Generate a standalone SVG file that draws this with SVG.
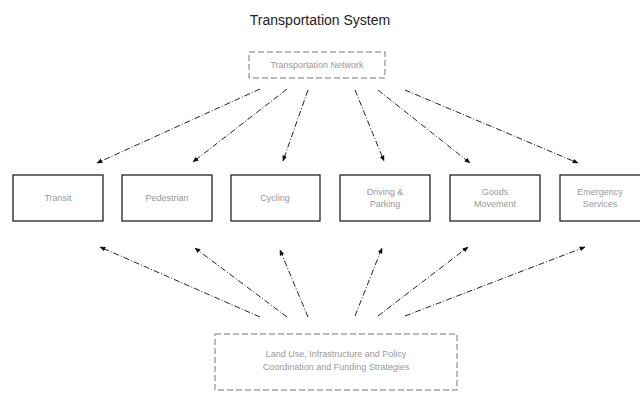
<svg xmlns="http://www.w3.org/2000/svg" width="640" height="394" viewBox="0 0 640 394">
<defs>
<style>
.title{font-family:"Liberation Sans",Arial,sans-serif;font-size:14px;fill:#222;text-anchor:middle}
.lbl{font-family:"Liberation Sans",Arial,sans-serif;font-size:9px;fill:#999;text-anchor:middle}
.node{fill:#fff;stroke:#222;stroke-width:1.3}
.hub{fill:#fff;stroke:#777;stroke-width:1;stroke-dasharray:6 3}
.conn{stroke:#222;stroke-width:1;stroke-dasharray:6 2 1 2;fill:none;marker-end:url(#ah)}
</style>
<marker id="ah" viewBox="0 0 10 10" refX="9" refY="5" markerWidth="6" markerHeight="6" orient="auto-start-reverse" markerUnits="userSpaceOnUse">
<path d="M0,1 L10,5 L0,9 z" fill="#111"/>
</marker>
</defs>
<rect width="640" height="394" fill="#fff"/>
<text class="title" x="320" y="25">Transportation System</text>
<g id="connectors">
<line class="conn" x1="260" y1="89" x2="97" y2="163"/>
<line class="conn" x1="287" y1="89" x2="193" y2="162"/>
<line class="conn" x1="308" y1="90" x2="283" y2="161"/>
<line class="conn" x1="355" y1="90" x2="384" y2="161"/>
<line class="conn" x1="378" y1="90" x2="470" y2="163"/>
<line class="conn" x1="405" y1="90" x2="578" y2="163"/>
<line class="conn" x1="260" y1="317" x2="100" y2="247"/>
<line class="conn" x1="287" y1="317" x2="195" y2="248"/>
<line class="conn" x1="308" y1="317" x2="280" y2="250"/>
<line class="conn" x1="355" y1="316" x2="382" y2="248"/>
<line class="conn" x1="378" y1="316" x2="468" y2="247"/>
<line class="conn" x1="405" y1="316" x2="585" y2="247"/>
</g>
<g id="top">
<rect class="hub" x="249" y="52" width="136" height="26"/>
<text class="lbl" x="317" y="68">Transportation Network</text>
</g>
<g id="transit">
<rect class="node" x="13" y="175" width="90" height="46"/>
<text class="lbl" x="58" y="201">Transit</text>
</g>
<g id="pedestrian">
<rect class="node" x="122" y="175" width="90" height="46"/>
<text class="lbl" x="167" y="201">Pedestrian</text>
</g>
<g id="cycling">
<rect class="node" x="231" y="175" width="89" height="46"/>
<text class="lbl" x="275" y="201">Cycling</text>
</g>
<g id="driving">
<rect class="node" x="340" y="175" width="90" height="46"/>
<text class="lbl" x="385" y="195">Driving &amp;</text>
<text class="lbl" x="385" y="207">Parking</text>
</g>
<g id="goods">
<rect class="node" x="450" y="175" width="90" height="46"/>
<text class="lbl" x="495" y="195">Goods</text>
<text class="lbl" x="495" y="207">Movement</text>
</g>
<g id="emergency">
<rect class="node" x="560" y="175" width="90" height="46"/>
<text class="lbl" x="600" y="195">Emergency</text>
<text class="lbl" x="600" y="207">Services</text>
</g>
<g id="bottom">
<rect class="hub" x="215" y="334" width="242" height="56"/>
<text class="lbl" x="336" y="357">Land Use, Infrastructure and Policy</text>
<text class="lbl" x="336" y="370">Coordination and Funding Strategies</text>
</g>
</svg>
